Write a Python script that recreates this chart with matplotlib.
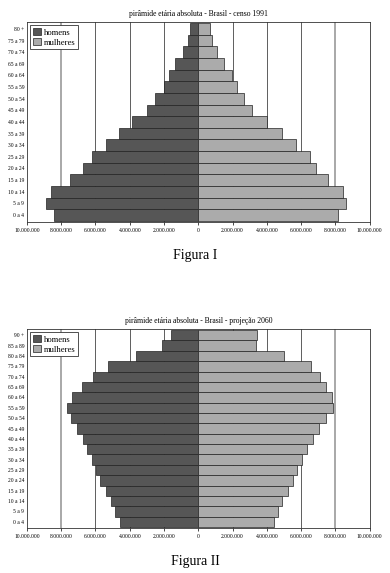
import numpy as np
import matplotlib
matplotlib.use('Agg')
from matplotlib import pyplot as plt
from matplotlib.patches import Patch

plt.rcParams['font.family'] = ['Liberation Serif', 'DejaVu Serif']

# censo 1991 (0 a 4 ... 80 +)
ages1 = ['0 a 4', '5 a 9', '10 a 14', '15 a 19', '20 a 24', '25 a 29', '30 a 34',
         '35 a 39', '40 a 44', '45 a 49', '50 a 54', '55 a 59', '60 a 64',
         '65 a 69', '70 a 74', '75 a 79', '80 +']
homens1 = [8.42, 8.87, 8.60, 7.47, 6.71, 6.19, 5.39, 4.61, 3.85, 2.98, 2.55,
           2.02, 1.73, 1.36, 0.88, 0.58, 0.47]
mulheres1 = [8.14, 8.60, 8.47, 7.56, 6.88, 6.49, 5.68, 4.90, 4.03, 3.16, 2.69,
             2.25, 1.94, 1.51, 1.07, 0.78, 0.70]

# projecao 2060 (0 a 4 ... 90 +)
ages2 = ['0 a 4', '5 a 9', '10 a 14', '15 a 19', '20 a 24', '25 a 29', '30 a 34',
         '35 a 39', '40 a 44', '45 a 49', '50 a 54', '55 a 59', '60 a 64',
         '65 a 69', '70 a 74', '75 a 79', '80 a 84', '85 a 89', '90 +']
homens2 = [4.59, 4.84, 5.10, 5.39, 5.72, 5.95, 6.19, 6.48, 6.75, 7.10, 7.41,
           7.65, 7.37, 6.81, 6.15, 5.29, 3.62, 2.12, 1.61]
mulheres2 = [4.40, 4.63, 4.90, 5.21, 5.52, 5.78, 6.05, 6.36, 6.67, 7.05, 7.46,
             7.87, 7.79, 7.46, 7.11, 6.57, 5.02, 3.35, 3.45]

xticks = [-10, -8, -6, -4, -2, 0, 2, 4, 6, 8, 10]
xlabels = ['10.000.000', '8.000.000', '6.000.000', '4.000.000', '2.000.000', '0',
           '2.000.000', '4.000.000', '6.000.000', '8.000.000', '10.000.000']

c_h = '#565656'
c_m = '#ababab'

fig = plt.figure(figsize=(3.9, 5.73), dpi=100)


def piramide(rect, ages, homens, mulheres, titulo, figura, fig_y):
    ax = fig.add_axes(rect)
    y = np.arange(len(ages))
    for xv in xticks[1:-1]:
        if abs(xv) == 8:
            ax.axvline(xv, color='#9a9a9a', lw=1.2, zorder=0)
        elif xv != 0:
            ax.axvline(xv, color='#444444', lw=0.6, zorder=0)
    ax.barh(y, [-v for v in homens], height=1.0, color=c_h, edgecolor='#222222', lw=0.5, zorder=2)
    ax.barh(y, mulheres, height=1.0, color=c_m, edgecolor='#222222', lw=0.5, zorder=2)
    ax.set_xlim(-10, 10)
    ax.set_ylim(-0.6, len(ages) - 0.4)
    ax.set_xticks(xticks)
    ax.set_xticklabels(xlabels, fontsize=4.0)
    ax.set_yticks(y)
    ax.set_yticklabels(ages, fontsize=4.0)
    ax.tick_params(axis='y', length=0, pad=2)
    ax.tick_params(axis='x', length=2, width=0.5, pad=2)
    for s in ax.spines.values():
        s.set_linewidth(0.6)
        s.set_color('#333333')
    ax.set_title(titulo, fontsize=5.5, pad=4)
    leg = ax.legend(handles=[Patch(facecolor=c_h, edgecolor='#222222', lw=0.5),
                             Patch(facecolor=c_m, edgecolor='#222222', lw=0.5)],
                    labels=['homens', 'mulheres'], loc='upper left', fontsize=6.2,
                    fancybox=False, framealpha=1, edgecolor='#333333',
                    handlelength=0.9, handleheight=0.9, handletextpad=0.4,
                    borderpad=0.3, labelspacing=0.2, borderaxespad=0.4)
    leg.get_frame().set_linewidth(0.6)
    fig.text(0.5, fig_y, figura, ha='center', va='center', fontsize=10)
    return ax


piramide([0.069, 0.6126, 0.879, 0.349], ages1, homens1, mulheres1,
         'pirâmide etária absoluta - Brasil - censo 1991', 'Figura I', 1 - 256 / 573)
piramide([0.069, 0.0785, 0.879, 0.3473], ages2, homens2, mulheres2,
         'pirâmide etária absoluta - Brasil - projeção 2060', 'Figura II', 1 - 562 / 573)

plt.savefig('out.png', dpi=100)
